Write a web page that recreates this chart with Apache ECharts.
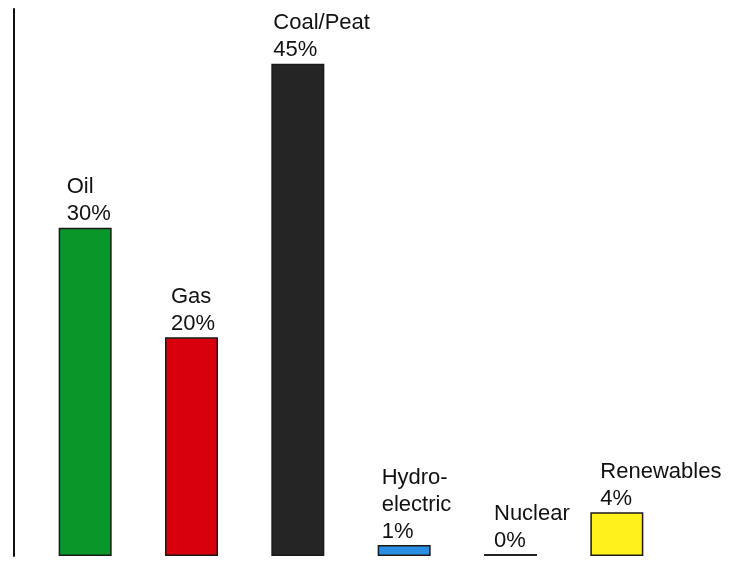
<!DOCTYPE html>
<html>
<head>
<meta charset="utf-8">
<script src="https://cdn.jsdelivr.net/npm/echarts@6/dist/echarts.min.js"></script>
<style>
  html, body { margin: 0; padding: 0; background: #fff; }
  #chart { width: 729px; height: 561px; }
</style>
</head>
<body>
<div id="chart"></div>
<script>
// energy sources and their share (%)
const categories = ['Oil', 'Gas', 'Coal/Peat', 'Hydro-\nelectric', 'Nuclear', 'Renewables']
const shares = [30, 20, 45, 1, 0, 4]

// styling only
const barColors = ['#0b962a', '#d7000c', '#252525', '#2a8fe2', '#222222', '#fff21c']
const labelShift = [8, 6, 2, 4, 10, 10]

const chart = echarts.init(document.getElementById('chart'))

chart.setOption({
  animation: false,
  grid: { left: 32, right: 59, top: 9, bottom: 5 },
  xAxis: {
    type: 'category',
    data: categories,
    axisLine: { show: false },
    axisTick: { show: false },
    axisLabel: { show: false }
  },
  yAxis: {
    type: 'value',
    min: 0,
    max: 50,
    offset: 18,
    axisLine: { show: true, lineStyle: { color: '#111', width: 2 } },
    axisTick: { show: false },
    axisLabel: { show: false },
    splitLine: { show: false }
  },
  series: [{
    type: 'bar',
    barWidth: 53,
    barMinHeight: 2,
    data: shares.map((v, i) => ({
      value: v,
      itemStyle: {
        color: barColors[i],
        borderColor: i === 4 ? '#222' : '#1a1a1a',
        borderWidth: i === 4 ? 0 : 1.5
      },
      label: { position: [labelShift[i], 0] }
    })),
    label: {
      show: true,
      align: 'left',
      verticalAlign: 'bottom',
      formatter: p => p.name + '\n' + p.value + '%',
      fontFamily: 'Liberation Sans, Arial, sans-serif',
      fontSize: 22,
      lineHeight: 27,
      color: '#111'
    }
  }]
})
</script>
</body>
</html>
